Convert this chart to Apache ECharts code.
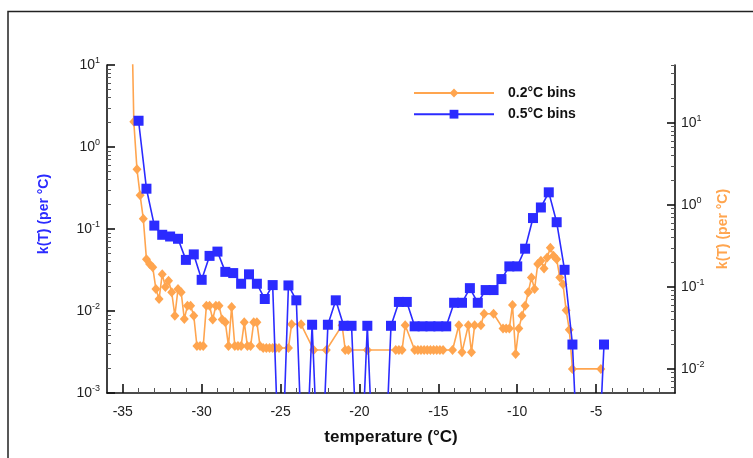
<!DOCTYPE html>
<html><head><meta charset="utf-8">
<script src="https://cdn.jsdelivr.net/npm/echarts@6/dist/echarts.min.js"></script>
<style>html,body{margin:0;padding:0;background:#fff}#c{width:753px;height:458px}</style>
</head><body><div id="c"></div>
<script>
// ---- data ----
const xTickValues = [-35, -30, -25, -20, -15, -10, -5];
const leftTickExps = [-3, -2, -1, 0, 1];
const rightTickExps = [-2, -1, 0, 1];

// 0.5 °C bins (left axis); 0 = empty bin (drawn below the axis)
const blueT = [-34, -33.5, -33, -32.5, -32, -31.5, -31, -30.5, -30, -29.5, -29, -28.5, -28, -27.5, -27, -26.5, -26, -25.5, -25, -24.5,
  -24, -23.5, -23, -22.5, -22, -21.5, -21, -20.5, -20, -19.5, -19, -18.5, -18, -17.5, -17, -16.5, -16, -15.5, -15, -14.5,
  -14, -13.5, -13, -12.5, -12, -11.5, -11, -10.5, -10, -9.5, -9, -8.5, -8, -7.5, -7, -6.5, -6, -5.5, -5, -4.5];
const blueK = [2.09, 0.31, 0.11, 0.085, 0.081, 0.076, 0.042, 0.049, 0.024, 0.047, 0.053, 0.030, 0.029, 0.0215, 0.028, 0.0215, 0.014, 0.0207, 0, 0.0205,
  0.0135, 0, 0.0068, 0, 0.0068, 0.0135, 0.0066, 0.0066, 0, 0.0066, 0, 0, 0.0066, 0.0129, 0.0129, 0.0065, 0.0065, 0.0065, 0.0065, 0.0065,
  0.0126, 0.0126, 0.019, 0.0126, 0.018, 0.018, 0.0245, 0.035, 0.035, 0.0575, 0.136, 0.183, 0.28, 0.121, 0.0318, 0.0039, 0, 0, 0, 0.0039];

// 0.2 °C bins (right axis), empty bins omitted
const orangeT = [-34.5, -34.3, -34.1, -33.9, -33.7, -33.5, -33.3, -33.1, -32.9, -32.7, -32.5, -32.3, -32.1, -31.9, -31.7, -31.5, -31.3, -31.1,
  -30.9, -30.7, -30.5, -30.3, -30.1, -29.9, -29.7, -29.5, -29.3, -29.1, -28.9, -28.7, -28.5, -28.3, -28.1, -27.9, -27.7, -27.5, -27.3, -27.1,
  -26.9, -26.7, -26.5, -26.3, -26.1, -25.9, -25.7, -25.5, -25.3, -25.1, -24.5, -24.3, -23.7, -22.9, -22.1, -21.1, -20.9, -20.7, -19.5,
  -17.7, -17.5, -17.3, -17.1, -16.5, -16.3, -16.1, -15.9, -15.7, -15.5, -15.3, -15.1, -14.9, -14.7, -14.1, -13.7, -13.5, -13.1, -12.9,
  -12.7, -12.3, -12.1, -11.5, -10.9, -10.7, -10.5, -10.3, -10.1, -9.9, -9.7, -9.5, -9.3, -9.1, -8.9, -8.7, -8.5, -8.3, -8.1, -7.9,
  -7.7, -7.5, -7.3, -7.1, -6.9, -6.7, -6.5, -4.7];
const orangeK = [1000, 10.3, 2.72, 1.31, 0.68, 0.218, 0.19, 0.173, 0.094, 0.071, 0.143, 0.1, 0.119, 0.086, 0.0445, 0.094, 0.086, 0.0405,
  0.059, 0.059, 0.0445, 0.019, 0.019, 0.019, 0.059, 0.059, 0.04, 0.059, 0.059, 0.04, 0.037, 0.019, 0.057, 0.019, 0.019, 0.019, 0.037, 0.019,
  0.019, 0.037, 0.037, 0.019, 0.018, 0.018, 0.018, 0.018, 0.018, 0.018, 0.018, 0.035, 0.035, 0.017, 0.017, 0.034, 0.017, 0.017, 0.017,
  0.017, 0.017, 0.017, 0.034, 0.017, 0.017, 0.017, 0.017, 0.017, 0.017, 0.017, 0.017, 0.017, 0.017, 0.017, 0.034, 0.016, 0.034, 0.016,
  0.034, 0.034, 0.047, 0.047, 0.031, 0.031, 0.031, 0.06, 0.0152, 0.031, 0.0445, 0.059, 0.086, 0.13, 0.094, 0.19, 0.208, 0.168, 0.229, 0.30,
  0.24, 0.218, 0.13, 0.108, 0.052, 0.03, 0.01, 0.01];

// ---- build ----
const BLUE = '#2b2bff', ORANGE = '#ffa54f';
const FONT = 'Liberation Sans, Arial, Helvetica, sans-serif';
const EMPTY_EXP = -4.5; // where an empty bin falls (below the axis)
const toExp = v => v > 0 ? Math.log10(v) : EMPTY_EXP;

const leftMin = -3, leftMax = 1;
const rightMin = -2.294, rightMax = 1.706;

function minorExps(lo, hi) {
  const out = [];
  for (let e = Math.floor(lo) - 1; e <= Math.ceil(hi); e++) {
    for (let k = 2; k <= 9; k++) {
      const v = e + Math.log10(k);
      if (v > lo && v < hi) out.push(v);
    }
  }
  return out;
}
const xMinor = [];
for (let t = -35; t <= -1; t++) if (t % 5 !== 0) xMinor.push(t);

const supRich = {
  b: {fontSize: 14, lineHeight: 18, color: '#222', fontFamily: FONT},
  s: {fontSize: 9, lineHeight: 11, verticalAlign: 'top', color: '#222', fontFamily: FONT}
};
const powFmt = v => '{b|10}{s|' + Math.round(v) + '}';
const axisLine = {show: true, onZero: false, lineStyle: {color: '#111', width: 1.6}};
const hiddenLine = {show: false, onZero: false};

const chart = echarts.init(document.getElementById('c'), null, {renderer: 'canvas'});
chart.setOption({
  animation: false,
  backgroundColor: '#fff',
  textStyle: {fontFamily: FONT},
  grid: {left: 107, right: 78, top: 65, bottom: 65, containLabel: false},
  graphic: [{
    type: 'rect', silent: true,
    shape: {x: 8, y: 11.5, width: 900, height: 700},
    style: {fill: 'none', stroke: '#222', lineWidth: 1.5}
  }],
  legend: {
    orient: 'vertical', left: 413, top: 86, padding: 0,
    itemWidth: 80, itemHeight: 11, itemGap: 7.2,
    data: ['0.2°C bins', '0.5°C bins'],
    textStyle: {fontSize: 14, fontWeight: 'bold', color: '#111', fontFamily: FONT, padding: [0, 0, 0, 9]}
  },
  xAxis: [{
    type: 'value', min: -36, max: 0, position: 'bottom',
    name: 'temperature (°C)', nameLocation: 'middle', nameGap: 36,
    nameTextStyle: {fontSize: 17, fontWeight: 'bold', color: '#111', fontFamily: FONT},
    axisLine: axisLine,
    axisTick: {show: true, inside: true, length: 9, customValues: xTickValues, lineStyle: {color: '#111', width: 1.6}},
    axisLabel: {customValues: xTickValues, fontSize: 14, color: '#222', margin: 12},
    splitLine: {show: false}
  }, {
    type: 'value', min: -36, max: 0, position: 'bottom', offset: 0,
    axisLine: hiddenLine,
    axisTick: {show: true, inside: true, length: 5, customValues: xMinor, lineStyle: {color: '#555', width: 1}},
    axisLabel: {show: false}, splitLine: {show: false}
  }],
  yAxis: [{
    type: 'value', min: leftMin, max: leftMax, position: 'left',
    name: 'k(T) (per °C)', nameLocation: 'middle', nameGap: 56, nameRotate: 90,
    nameTextStyle: {fontSize: 14, fontWeight: 'bold', color: BLUE, fontFamily: FONT, padding: [0, 0, 0, 30]},
    axisLine: axisLine,
    axisTick: {show: true, inside: true, length: 8, customValues: leftTickExps, lineStyle: {color: '#111', width: 1.6}},
    axisLabel: {customValues: leftTickExps, formatter: powFmt, rich: supRich, margin: 7},
    splitLine: {show: false}
  }, {
    type: 'value', min: leftMin, max: leftMax, position: 'left', offset: 0,
    axisLine: hiddenLine,
    axisTick: {show: true, inside: true, length: 4, customValues: minorExps(leftMin, leftMax), lineStyle: {color: '#555', width: 1}},
    axisLabel: {show: false}, splitLine: {show: false}
  }, {
    type: 'value', min: rightMin, max: rightMax, position: 'right',
    name: 'k(T) (per °C)', nameLocation: 'middle', nameGap: 41, nameRotate: 90,
    nameTextStyle: {fontSize: 14, fontWeight: 'bold', color: ORANGE, fontFamily: FONT},
    axisLine: axisLine,
    axisTick: {show: true, inside: true, length: 8, customValues: rightTickExps, lineStyle: {color: '#111', width: 1.6}},
    axisLabel: {customValues: rightTickExps, formatter: powFmt, rich: supRich, margin: 6},
    splitLine: {show: false}
  }, {
    type: 'value', min: rightMin, max: rightMax, position: 'right', offset: 0,
    axisLine: hiddenLine,
    axisTick: {show: true, inside: true, length: 4, customValues: minorExps(rightMin, rightMax), lineStyle: {color: '#555', width: 1}},
    axisLabel: {show: false}, splitLine: {show: false}
  }],
  series: [{
    name: '0.2°C bins', type: 'line', yAxisIndex: 2, clip: true,
    data: orangeT.map((t, i) => [t, toExp(orangeK[i])]),
    symbol: 'diamond', symbolSize: [9, 10],
    lineStyle: {color: ORANGE, width: 1.6}, itemStyle: {color: ORANGE},
    z: 2
  }, {
    name: '0.5°C bins', type: 'line', yAxisIndex: 0, clip: true,
    data: blueT.map((t, i) => [t, toExp(blueK[i])]),
    symbol: 'rect', symbolSize: 10,
    lineStyle: {color: BLUE, width: 1.6}, itemStyle: {color: BLUE},
    z: 3
  }]
});
</script></body></html>
